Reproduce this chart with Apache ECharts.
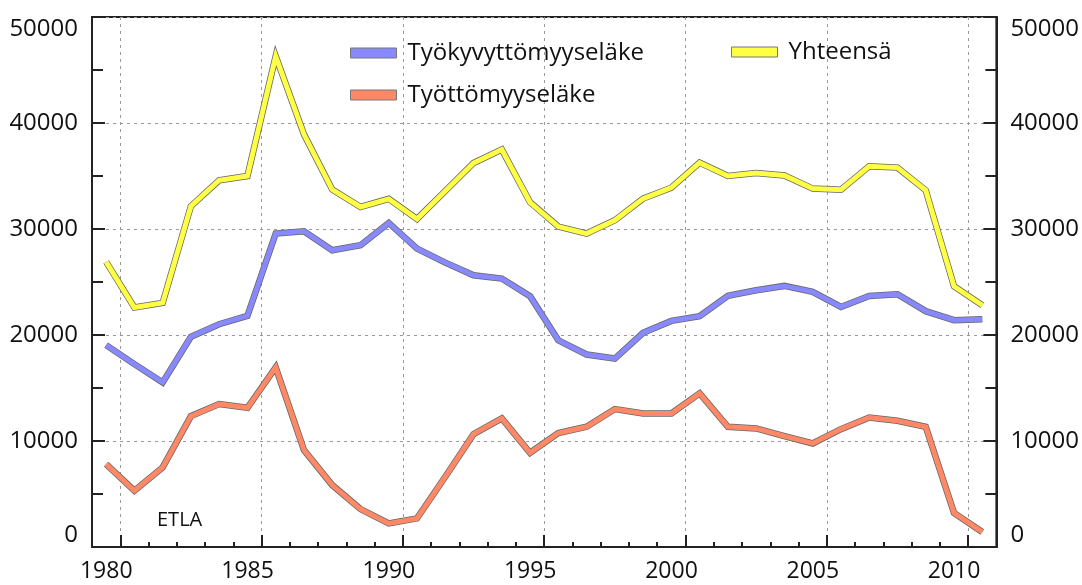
<!DOCTYPE html>
<html>
<head>
<meta charset="utf-8">
<script src="https://cdn.jsdelivr.net/npm/echarts@6/dist/echarts.min.js"></script>
<style>
html,body{margin:0;padding:0;background:#fff;}
#chart{width:1082px;height:585px;}
</style>
</head>
<body>
<div id="chart"></div>
<script>
// Annual data, years 1979..2010 (plotted at mid-year)
const years = [1979,1980,1981,1982,1983,1984,1985,1986,1987,1988,1989,1990,1991,1992,1993,1994,1995,1996,1997,1998,1999,2000,2001,2002,2003,2004,2005,2006,2007,2008,2009,2010];
const tyokyvyttomyys = [19040,17250,15530,19830,21020,21810,29570,29790,27990,28470,30570,28150,26830,25640,25320,23660,19500,18160,17780,20200,21330,21770,23690,24220,24630,24070,22650,23690,23850,22250,21400,21490];
const tyottomyys = [7820,5310,7510,12350,13480,13130,16940,9140,5840,3580,2230,2700,6630,10650,12130,8890,10750,11340,13010,12600,12600,14490,11340,11190,10460,9770,11120,12220,11910,11340,3220,1420];
const yhteensa = [26900,22590,23030,32150,34600,35000,46300,38930,33720,32080,32840,30950,33590,36230,37490,32520,30230,29570,30820,32870,33900,36260,35000,35280,35050,33810,33710,35910,35790,33650,24600,22810];
const seriesNames = ['Työkyvyttömyyseläke','Työttömyyseläke','Yhteensä'];
const seriesColors = ['#8888ff','#ff8866','#ffff44'];
const yTicks = [0,10000,20000,30000,40000,50000];

const pts = arr => arr.map((v,i)=>[years[i]+0.5, v]);
const FONT = 'Open Sans';
const seriesData = [tyokyvyttomyys, tyottomyys, yhteensa];

const series = [];
seriesData.forEach((d,i)=>{
  series.push({
    name: seriesNames[i]+'_outline', type:'line', data: pts(d), symbol:'none',
    lineStyle:{width:6.5,color:'#666',join:'miter'}, itemStyle:{color:'#666'},
    silent:true, z:2+i*2, animation:false
  });
  series.push({
    name: seriesNames[i], type:'line', data: pts(d), symbol:'none',
    lineStyle:{width:5,color:seriesColors[i],join:'miter'}, itemStyle:{color:seriesColors[i]},
    z:3+i*2, animation:false
  });
});

const legendBase = {
  icon:'rect', itemWidth:46, itemHeight:10, orient:'horizontal',
  itemStyle:{borderColor:'#777',borderWidth:1},
  textStyle:{fontFamily:FONT,fontSize:24,color:'#111',padding:[0,0,0,6]},
  selectedMode:false
};

const yAxisBase = {
  type:'value', min:yTicks[0], max:yTicks[yTicks.length-1], interval:10000,
  axisLine:{show:true,lineStyle:{color:'#222',width:2}},
  axisTick:{show:true,inside:true,length:13,lineStyle:{color:'#222',width:2}},
  minorTick:{show:true,splitNumber:2,length:11,lineStyle:{color:'#222',width:2}},
  axisLabel:{fontFamily:FONT,fontSize:24,color:'#111',margin:14,formatter:v=>String(v),
    verticalAlignMinLabel:'bottom',verticalAlignMaxLabel:'top'}
};

const option = {
  backgroundColor:'#fff',
  animation:false,
  grid:{left:92,right:83,top:17,bottom:38,show:true,borderColor:'#222',borderWidth:2,backgroundColor:'transparent'},
  legend:[
    Object.assign({},legendBase,{data:[seriesNames[0]],left:345,top:36}),
    Object.assign({},legendBase,{data:[seriesNames[1]],left:345,top:78}),
    Object.assign({},legendBase,{data:[seriesNames[2]],left:726,top:35})
  ],
  xAxis:[
    {type:'value',min:1979,max:2011,splitNumber:5,position:'bottom',
     axisLine:{show:true,lineStyle:{color:'#222',width:2}},
     axisTick:{show:true,inside:true,length:12,lineStyle:{color:'#222',width:2}},
     axisLabel:{fontFamily:FONT,fontSize:23,color:'#111',margin:13,showMinLabel:true,showMaxLabel:true,
       padding:[0,28,0,0],
       formatter:v=> (v%5===0 ? String(v) : '')},
     splitLine:{show:true,lineStyle:{color:'#999',width:1,type:[3,4]}}
    },
    {type:'value',min:1979,max:2011,interval:1,position:'bottom',
     axisLine:{show:false},
     axisTick:{show:true,inside:true,length:5,lineStyle:{color:'#222',width:2}},
     axisLabel:{show:false},splitLine:{show:false}
    }
  ],
  yAxis:[
    Object.assign({},yAxisBase,{position:'left',
      splitLine:{show:true,lineStyle:{color:'#999',width:1,type:[3,4]}}}),
    Object.assign({},yAxisBase,{position:'right',splitLine:{show:false}})
  ],
  graphic:[
    {type:'text',left:157,top:510,style:{text:'ETLA',fontFamily:FONT,fontSize:20,fill:'#111'}}
  ],
  series: series
};

const chart = echarts.init(document.getElementById('chart'),null,{renderer:'canvas'});
chart.setOption(option);
</script>
</body>
</html>
